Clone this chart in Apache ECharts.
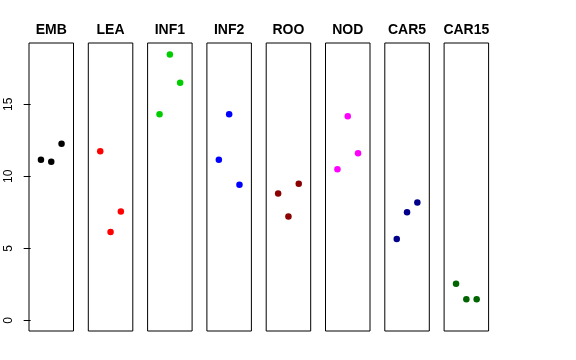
<!DOCTYPE html>
<html><head><meta charset="utf-8">
<script src="https://cdn.jsdelivr.net/npm/echarts@6/dist/echarts.min.js"></script>
<style>html,body{margin:0;padding:0;background:#fff}#c{width:576px;height:360px}</style>
</head><body><div id="c"></div>
<script>
const panels = ["EMB","LEA","INF1","INF2","ROO","NOD","CAR5","CAR15"];
const colors = ["#000000","#FF0000","#00CD00","#0000FF","#8B0000","#FF00FF","#00008B","#006400"];
const xPos = [1,2,3];
const EMB = [11.16,11.02,12.27];
const LEA = [11.74,6.14,7.55];
const INF1 = [14.31,18.47,16.5];
const INF2 = [11.16,14.31,9.42];
const ROO = [8.8,7.22,9.49];
const NOD = [10.49,14.17,11.6];
const CAR5 = [5.65,7.5,8.19];
const CAR15 = [2.54,1.46,1.46];
const values = [EMB,LEA,INF1,INF2,ROO,NOD,CAR5,CAR15];
const yTicks = [0,5,10,15];

(function(){
const chart = echarts.init(document.getElementById('c'), null, {renderer:'canvas'});
const left0 = 29, step = 59.3, w = 44.5, gTop = 43, h = 288;
const grid=[], xAxis=[], yAxis=[], series=[], graphic=[];
panels.forEach((p,i)=>{
  const l = left0 + i*step;
  grid.push({left:l, top:gTop, width:w, height:h, show:true, borderColor:'#000', borderWidth:1, backgroundColor:'transparent', containLabel:false});
  xAxis.push({type:'value', gridIndex:i, min:-0.16, max:4.16, show:false});
  yAxis.push({type:'value', gridIndex:i, min:-0.74, max:19.26, show:i===0,
    axisLine:{show:false}, splitLine:{show:false},
    axisTick:{show:true, length:7, lineStyle:{color:'#000'}, customValues:yTicks},
    axisLabel:{show:true, rotate:90, margin:14, color:'#000', fontSize:12, fontFamily:'Liberation Sans, Arial, sans-serif', customValues:yTicks}
  });
  series.push({type:'scatter', xAxisIndex:i, yAxisIndex:i, symbol:'circle', symbolSize:6.5,
    itemStyle:{color:colors[i], opacity:1}, data: xPos.map((x,k)=>[x, values[i][k]]), silent:true});
  graphic.push({type:'text', x:l + w/2, y:30, silent:true,
    style:{text:p, align:'center', verticalAlign:'middle', fontSize:14, fontWeight:'bold', fill:'#000', fontFamily:'Liberation Sans, Arial, sans-serif'}});
});
chart.setOption({animation:false, backgroundColor:'#fff', graphic, grid, xAxis, yAxis, series});
})();
</script></body></html>
